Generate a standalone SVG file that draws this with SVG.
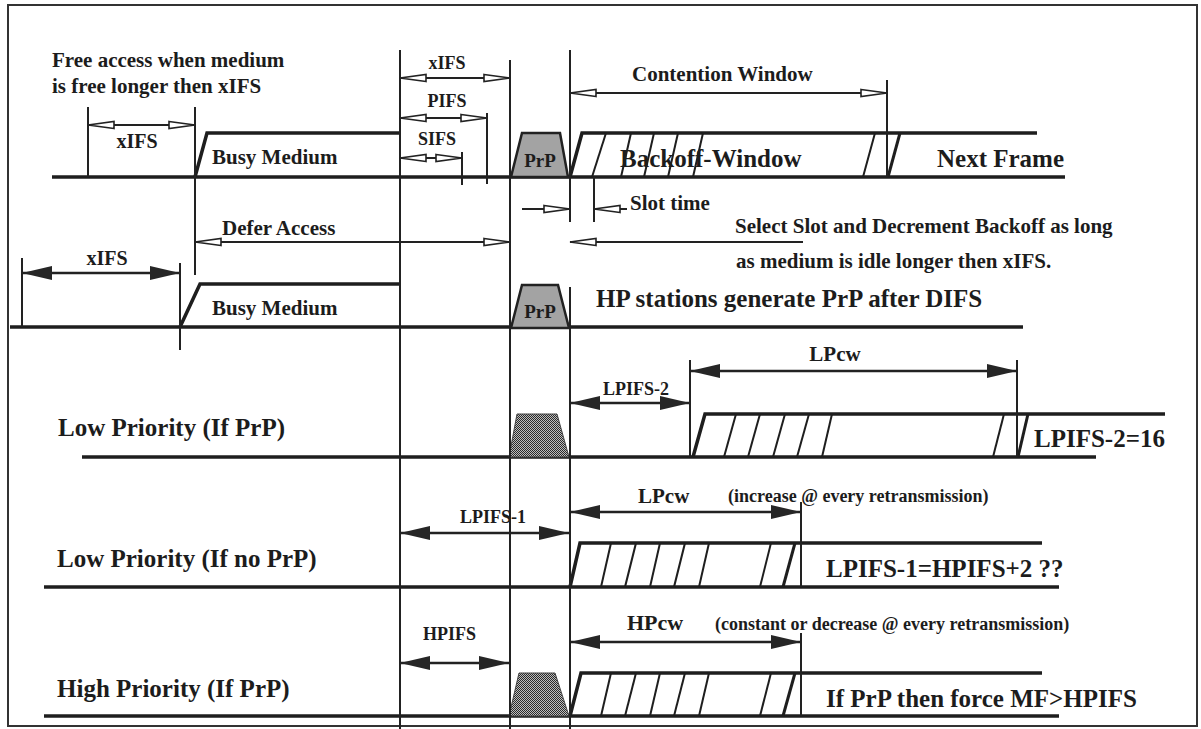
<svg xmlns="http://www.w3.org/2000/svg" width="1201" height="729" viewBox="0 0 1201 729">
<defs>
<style>
.t{font-family:"Liberation Serif","Times New Roman",serif;font-weight:bold;fill:#1c1c1c}
.s18{font-size:18px}.s20{font-size:20px}.s21{font-size:21px}.s22{font-size:22px}.s25{font-size:25px}
.m{text-anchor:middle}
.tl{stroke:#1e1e1e;stroke-width:3.5;fill:none}
.sl{stroke:#1e1e1e;stroke-width:3;fill:none}
.ht{stroke:#1e1e1e;stroke-width:2;fill:none}
.vl{stroke:#222;stroke-width:2;fill:none}
.ah{stroke:#222;stroke-width:2;fill:none;marker-start:url(#ho);marker-end:url(#ho)}
.ae{stroke:#222;stroke-width:2;fill:none;marker-end:url(#ho)}
.as{stroke:#222;stroke-width:2.5;fill:none;marker-start:url(#so);marker-end:url(#so)}
.prp{fill:#a3a3a3;stroke:#222;stroke-width:2.5}
.chk{fill:url(#chk);stroke:#444;stroke-width:1}
</style>
<pattern id="chk" width="2" height="2" patternUnits="userSpaceOnUse">
<rect width="2" height="2" fill="#bdbdbd"/>
<rect width="1" height="1" fill="#2a2a2a"/>
<rect x="1" y="1" width="1" height="1" fill="#2a2a2a"/>
</pattern>
<marker id="ho" viewBox="0 0 28 10" refX="27" refY="5" markerWidth="28" markerHeight="10" markerUnits="userSpaceOnUse" orient="auto-start-reverse">
<path d="M1,1.5 L27,5 L1,8.5 Z" fill="#fff" stroke="#222" stroke-width="1.6"/>
</marker>
<marker id="so" viewBox="0 0 30 14" refX="30" refY="7" markerWidth="30" markerHeight="14" markerUnits="userSpaceOnUse" orient="auto-start-reverse">
<path d="M0,0 L30,7 L0,14 Z" fill="#262626"/>
</marker>
</defs>
<rect x="0" y="0" width="1201" height="729" fill="#fff"/>
<rect x="8" y="5" width="1189" height="721" fill="none" stroke="#333" stroke-width="2"/>

<g id="texts-top">
<text class="t s21" x="52" y="67">Free access when medium</text>
<text class="t s21" x="52" y="93">is free longer then xIFS</text>
<text class="t s20 m" x="137" y="148">xIFS</text>
<text class="t s18 m" x="447" y="69">xIFS</text>
<text class="t s18 m" x="447" y="107">PIFS</text>
<text class="t s18 m" x="437" y="145">SIFS</text>
<text class="t s21" x="632" y="81">Contention Window</text>
</g>

<g id="row1">
<line class="tl" x1="52" y1="177" x2="1065" y2="177"/>
<polyline class="tl" points="195,177 207,133 400,133"/>
<polygon class="prp" points="511,177 522,133 560,133 568,177"/>
<text class="t m" x="540" y="167" font-size="19" fill="#2a2a2a">PrP</text>
<polyline class="tl" points="570,177 582,133 1037,133"/>
<text class="t s25" x="620" y="167">Backoff-Window</text>
<g class="ht">
<line x1="592" y1="177" x2="606" y2="133"/>
<line x1="621" y1="177" x2="631" y2="133"/>
<line x1="644" y1="177" x2="654" y2="133"/>
<line x1="668" y1="177" x2="678" y2="133"/>
<line x1="693" y1="177" x2="703" y2="133"/>
<line x1="863" y1="177" x2="875" y2="133"/>
</g>
<line class="sl" x1="888" y1="177" x2="900" y2="133"/>
<text class="t s21" x="212" y="164">Busy Medium</text>
<text class="t s25" x="937" y="167">Next Frame</text>
<text class="t s21" x="630" y="210">Slot time</text>
<text class="t s21" x="222" y="235">Defer Access</text>
<text class="t s21" x="735" y="233">Select Slot and Decrement Backoff as long</text>
<text class="t s21" x="736" y="268">as medium is idle longer then xIFS.</text>
</g>

<g id="row2">
<line class="tl" x1="10" y1="327" x2="1023" y2="327"/>
<polyline class="tl" points="180,327 200,284 400,284"/>
<polygon class="prp" points="511,328 522,285 558,285 569,328"/>
<text class="t m" x="540" y="318" font-size="19" fill="#2a2a2a">PrP</text>
<text class="t s20 m" x="107" y="265">xIFS</text>
<text class="t s21" x="212" y="315">Busy Medium</text>
<text class="t s25" x="596" y="307">HP stations generate PrP after DIFS</text>
</g>

<g id="row3">
<line class="tl" x1="82" y1="457" x2="1096" y2="457"/>
<polygon class="chk" points="509,457 517,414 557,414 569,457"/>
<polyline class="tl" points="693,457 705,414 1165,414"/>
<g class="ht">
<line x1="724" y1="457" x2="736" y2="414"/>
<line x1="748" y1="457" x2="760" y2="414"/>
<line x1="773" y1="457" x2="785" y2="414"/>
<line x1="797" y1="457" x2="809" y2="414"/>
<line x1="822" y1="457" x2="832" y2="414"/>
<line x1="993" y1="457" x2="1004" y2="414"/>
</g>
<line class="sl" x1="1018" y1="457" x2="1028" y2="414"/>
<text class="t s25" x="58" y="436">Low Priority (If PrP)</text>
<text class="t s21 m" x="835" y="361">LPcw</text>
<text class="t s18" x="603" y="395">LPIFS-2</text>
<text class="t s25" x="1034" y="447">LPIFS-2=16</text>
</g>

<g id="row4">
<line class="tl" x1="44" y1="587" x2="1059" y2="587"/>
<polyline class="tl" points="570,587 580,543 1042,543"/>
<g class="ht">
<line x1="601" y1="587" x2="611" y2="543"/>
<line x1="625" y1="587" x2="636" y2="543"/>
<line x1="650" y1="587" x2="660" y2="543"/>
<line x1="674" y1="587" x2="685" y2="543"/>
<line x1="699" y1="587" x2="709" y2="543"/>
<line x1="760" y1="587" x2="771" y2="543"/>
</g>
<line class="sl" x1="783" y1="587" x2="795" y2="543"/>
<text class="t s25" x="57" y="567">Low Priority (If no PrP)</text>
<text class="t s18" x="460" y="523">LPIFS-1</text>
<text class="t s21" x="638" y="503">LPcw</text>
<text class="t s18" x="728" y="502">(increase @ every retransmission)</text>
<text class="t s25" x="826" y="577">LPIFS-1=HPIFS+2 ??</text>
</g>

<g id="row5">
<line class="tl" x1="44" y1="716" x2="1059" y2="716"/>
<polygon class="chk" points="509,716 519,673 555,673 569,716"/>
<polyline class="tl" points="570,716 581,673 1042,673"/>
<g class="ht">
<line x1="601" y1="716" x2="611" y2="673"/>
<line x1="625" y1="716" x2="636" y2="673"/>
<line x1="650" y1="716" x2="660" y2="673"/>
<line x1="674" y1="716" x2="685" y2="673"/>
<line x1="699" y1="716" x2="709" y2="673"/>
<line x1="760" y1="716" x2="771" y2="673"/>
</g>
<line class="sl" x1="783" y1="716" x2="795" y2="673"/>
<text class="t s25" x="57" y="697">High Priority (If PrP)</text>
<text class="t s18" x="423" y="640">HPIFS</text>
<text class="t s22" x="627" y="630">HPcw</text>
<text class="t s18" x="715" y="630">(constant or decrease @ every retransmission)</text>
<text class="t s25" x="826" y="707">If PrP then force MF&gt;HPIFS</text>
</g>

<g id="connectors">
<g class="vl">
<line x1="400" y1="50" x2="400" y2="729"/>
<line x1="510" y1="60" x2="510" y2="729"/>
<line x1="570" y1="50" x2="570" y2="222"/>
<line x1="570" y1="287" x2="570" y2="729"/>
<line x1="195" y1="107" x2="195" y2="275"/>
<line x1="180" y1="263" x2="180" y2="350"/>
<line x1="88" y1="107" x2="88" y2="177"/>
<line x1="22" y1="258" x2="22" y2="327"/>
<line x1="462" y1="152" x2="462" y2="185"/>
<line x1="487" y1="113" x2="487" y2="184"/>
<line x1="887" y1="80" x2="887" y2="177"/>
<line x1="594" y1="177" x2="594" y2="222"/>
<line x1="690" y1="360" x2="690" y2="457"/>
<line x1="1017" y1="360" x2="1017" y2="457"/>
<line x1="801" y1="502" x2="801" y2="587"/>
<line x1="801" y1="633" x2="801" y2="716"/>
</g>
<line class="ah" x1="88" y1="125" x2="195" y2="125"/>
<line class="ah" x1="400" y1="78" x2="510" y2="78"/>
<line class="ah" x1="400" y1="118" x2="487" y2="118"/>
<line class="ah" x1="400" y1="158" x2="462" y2="158"/>
<line class="ah" x1="570" y1="93" x2="887" y2="93"/>
<line class="ae" x1="522" y1="209" x2="570" y2="209"/>
<line class="ae" x1="627" y1="209" x2="594" y2="209"/>
<line class="ah" x1="195" y1="242" x2="510" y2="242"/>
<line class="ae" x1="803" y1="242" x2="570" y2="242"/>
<line class="as" x1="22" y1="273" x2="180" y2="273"/>
<line class="as" x1="570" y1="403" x2="690" y2="403"/>
<line class="as" x1="690" y1="371" x2="1017" y2="371"/>
<line class="as" x1="400" y1="533" x2="569" y2="533"/>
<line class="as" x1="570" y1="512" x2="801" y2="512"/>
<line class="as" x1="400" y1="663" x2="509" y2="663"/>
<line class="as" x1="570" y1="642" x2="801" y2="642"/>
</g>
</svg>
